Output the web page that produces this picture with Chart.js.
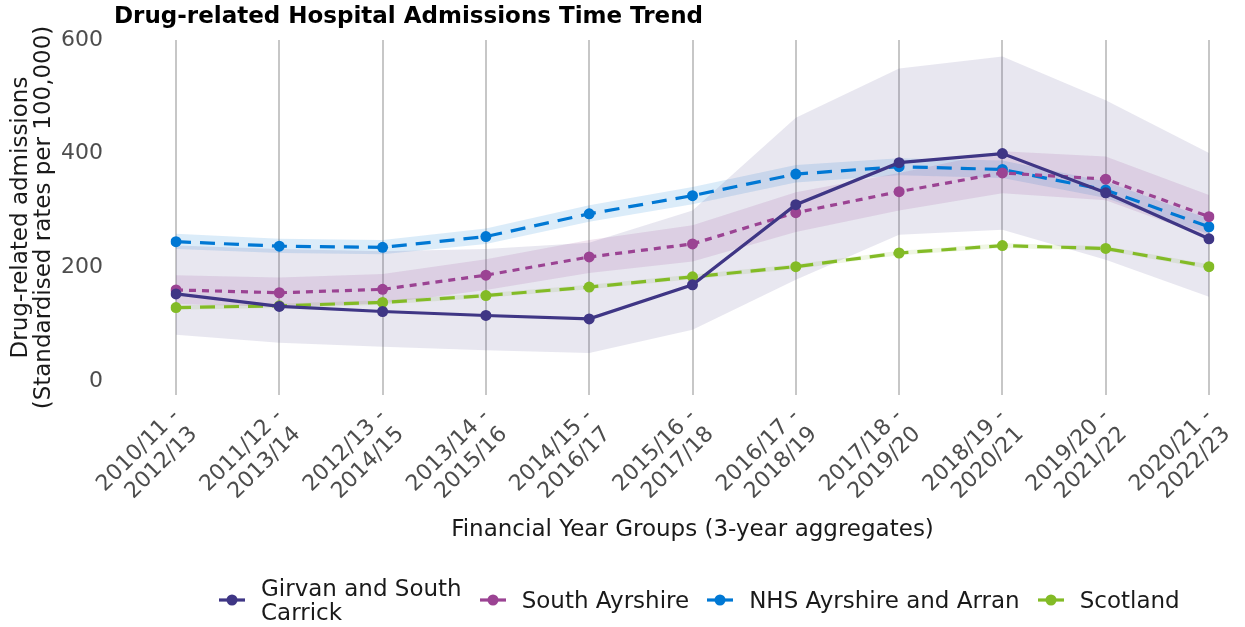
<!DOCTYPE html>
<html>
<head>
<meta charset="utf-8">
<script src="https://cdn.jsdelivr.net/npm/chart.js@4.4.0/dist/chart.umd.min.js"></script>
<style>
  html, body { margin: 0; padding: 0; background: #fff; }
  #wrap { position: relative; width: 1245px; height: 627px; font-family: "DejaVu Sans", sans-serif; }
  #title { position: absolute; left: 114px; top: 2px; font-weight: bold; font-size: 23px; color: #000; }
  #legend { position: absolute; left: 219px; top: 576px; display: flex; align-items: center; font-size: 23px; color: #1a1a1a; line-height: 24px; }
  .item { display: flex; align-items: center; margin-right: 18px; }
  .item svg { margin-right: 16px; }
  .item span { white-space: pre-line; }
</style>
</head>
<body>
<div id="wrap">
  <canvas id="chart" width="1245" height="627"></canvas>
  <div id="title">Drug-related Hospital Admissions Time Trend</div>
  <div id="legend"></div>
</div>
<script>
// data
const yearGroups = ['2010/11 - 2012/13', '2011/12 - 2013/14', '2012/13 - 2014/15', '2013/14 - 2015/16',
  '2014/15 - 2016/17', '2015/16 - 2017/18', '2016/17 - 2018/19', '2017/18 - 2019/20',
  '2018/19 - 2020/21', '2019/20 - 2021/22', '2020/21 - 2022/23'];
const yTicks = [0, 200, 400, 600];

const seriesNames = ['Girvan and South\nCarrick', 'South Ayrshire', 'NHS Ayrshire and Arran', 'Scotland'];

const girvan = [153, 131, 122, 115, 109, 169, 310, 384, 400, 331, 250];
const girvanLower = [81, 67, 60, 54, 49, 90, 178, 257, 266, 213, 148];
const girvanUpper = [238, 232, 228, 232, 243, 300, 463, 550, 571, 494, 401];

const southAyrshire = [160, 155, 161, 186, 218, 241, 296, 333, 366, 355, 289];
const southAyrshireLower = [135, 130, 136, 160, 190, 210, 262, 300, 330, 318, 252];
const southAyrshireUpper = [186, 182, 188, 214, 248, 274, 332, 366, 404, 395, 327];

const nhsAA = [245, 237, 235, 254, 294, 326, 364, 377, 372, 336, 271];
const nhsAALower = [232, 225, 223, 241, 280, 311, 349, 362, 357, 322, 258];
const nhsAAUpper = [259, 250, 248, 268, 309, 341, 380, 392, 388, 351, 285];

const scotland = [129, 132, 138, 150, 165, 183, 201, 225, 238, 233, 201];
const scotlandLower = [125, 128, 134, 146, 161, 179, 197, 221, 234, 229, 197];
const scotlandUpper = [133, 136, 142, 154, 169, 187, 205, 229, 242, 237, 205];

const colours = ['#3f3685', '#9b4393', '#0078d4', '#83bb26'];
const bandColours = ['rgba(63,54,133,0.12)', 'rgba(155,67,147,0.14)', 'rgba(0,120,212,0.14)', 'rgba(131,187,38,0.13)'];
const dashes = [[], [7, 6], [15, 9], [15, 9]];

const values = [girvan, southAyrshire, nhsAA, scotland];
const lowers = [girvanLower, southAyrshireLower, nhsAALower, scotlandLower];
const uppers = [girvanUpper, southAyrshireUpper, nhsAAUpper, scotlandUpper];

const labels = yearGroups.map(g => {
  const parts = g.split(' - ');
  return [parts[0] + ' -', parts[1]];
});

const datasets = [];
// bands: lower edge then upper edge filled down to it
for (let i = 0; i < 4; i++) {
  datasets.push({ label: 'lo' + i, data: lowers[i], borderWidth: 0, pointRadius: 0, fill: false, order: 10 });
  datasets.push({ label: 'hi' + i, data: uppers[i], borderWidth: 0, pointRadius: 0, fill: '-1',
    backgroundColor: bandColours[i], order: 10 });
}
for (let i = 0; i < 4; i++) {
  datasets.push({
    label: seriesNames[i].replace('\n', ' '),
    data: values[i],
    borderColor: colours[i],
    backgroundColor: colours[i],
    borderWidth: 3.2,
    borderDash: dashes[i],
    pointRadius: 5.5,
    pointBorderWidth: 0,
    tension: 0,
    fill: false,
    order: i
  });
}

new Chart(document.getElementById('chart'), {
  type: 'line',
  data: { labels: labels, datasets: datasets },
  options: {
    responsive: false,
    animation: false,
    layout: { padding: { top: 40, left: 0, right: 36, bottom: 85 } },
    plugins: {
      legend: { display: false },
      tooltip: { enabled: false },
      filler: { drawTime: 'beforeDatasetsDraw' }
    },
    scales: {
      x: {
        offset: false,
        grid: { color: 'rgba(175,175,175,0.7)', lineWidth: 2, drawTicks: false },
        border: { display: false },
        ticks: {
          autoSkip: false, minRotation: 45, maxRotation: 45, padding: 9,
          color: '#4d4d4d', font: { family: 'DejaVu Sans', size: 22, lineHeight: 1.15 }
        },
        title: {
          display: true, text: 'Financial Year Groups (3-year aggregates)', color: '#1a1a1a',
          font: { family: 'DejaVu Sans', size: 23, lineHeight: 1.05 }, padding: 0
        },
        afterFit: scale => {
          scale.height = 147;
          scale.paddingLeft = 0;
          scale.paddingRight = 0;
        }
      },
      y: {
        min: -25, max: 600,
        grid: { display: false, drawTicks: false },
        border: { display: false },
        afterBuildTicks: scale => { scale.ticks = yTicks.map(v => ({ value: v })); },
        ticks: { padding: 73, color: '#4d4d4d', font: { family: 'DejaVu Sans', size: 22 } },
        title: {
          display: true, text: ['Drug-related admissions', '(Standardised rates per 100,000)'], color: '#1a1a1a',
          font: { family: 'DejaVu Sans', size: 23, lineHeight: 1.0 }, padding: { top: 10, bottom: 0 }
        },
        afterFit: scale => {
          scale.width = 176;
          // the big tick padding should not push the plot down
          scale.paddingTop = 0;
          scale.paddingBottom = 0;
        }
      }
    }
  }
});

// legend built from the same series
const legend = document.getElementById('legend');
seriesNames.forEach((name, i) => {
  const item = document.createElement('div');
  item.className = 'item';
  item.innerHTML = '<svg width="26" height="14"><line x1="0" y1="7" x2="26" y2="7" stroke="' + colours[i] +
    '" stroke-width="3.2"/><circle cx="13" cy="7" r="5.5" fill="' + colours[i] + '"/></svg>';
  const txt = document.createElement('span');
  txt.textContent = name;
  item.appendChild(txt);
  legend.appendChild(item);
});
</script>
</body>
</html>
